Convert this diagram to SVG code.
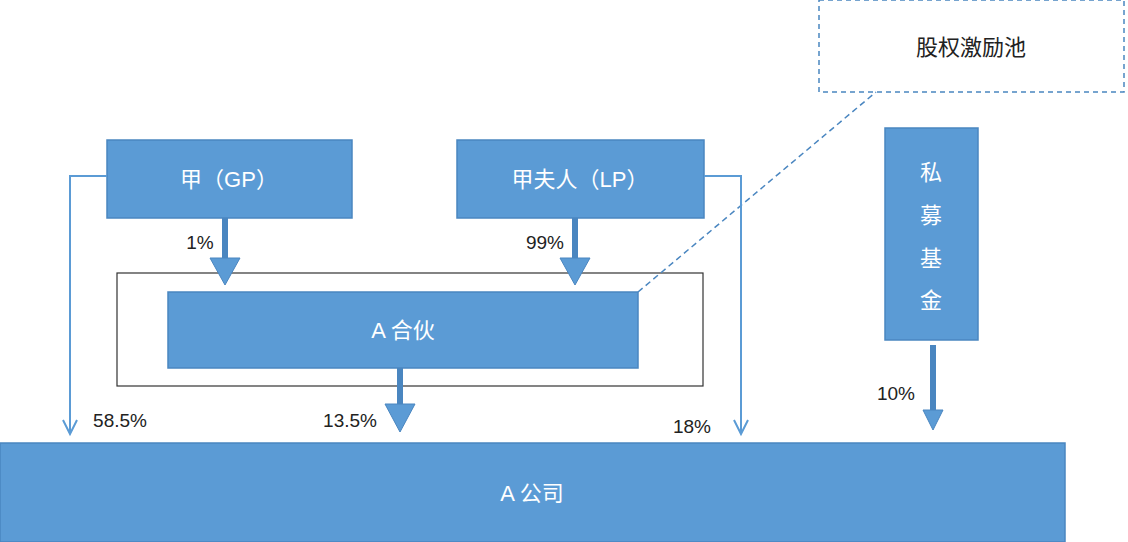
<svg xmlns="http://www.w3.org/2000/svg" width="1128" height="542" viewBox="0 0 1128 542">
<style>
.b{fill:#5b9bd5;stroke:#4a86c0;stroke-width:1.5}
.t{fill:#fff;font-family:"Liberation Sans","Noto Sans CJK SC",sans-serif;font-size:22px;text-anchor:middle;dominant-baseline:central}
.l{fill:#222;font-family:"Liberation Sans","Noto Sans CJK SC",sans-serif;font-size:19px;text-anchor:middle;dominant-baseline:central}
.thin{fill:none;stroke:#5b9bd5;stroke-width:2}
.thick{fill:none;stroke:#4a86c0;stroke-width:6}
.head{fill:#5b9bd5;stroke:#4a86c0;stroke-width:1}
</style>
<rect width="1128" height="542" fill="#fff"/>
<g id="pool"><rect x="819" y="0" width="305" height="92" fill="#fff" stroke="#4a86c0" stroke-width="1.5" stroke-dasharray="5,4"/><text class="t" x="971" y="47" fill="#222" style="fill:#222">股权激励池</text></g>
<g id="outer"><rect x="117" y="273" width="586" height="113" fill="#fff" stroke="#333" stroke-width="1.2"/></g>
<g id="gp"><rect class="b" x="107" y="140" width="245" height="78"/><text class="t" x="229" y="179">甲（GP）</text></g>
<g id="lp"><rect class="b" x="457" y="140" width="247" height="78"/><text class="t" x="580" y="179">甲夫人（LP）</text></g>
<g id="fund"><rect class="b" x="885" y="128" width="93" height="212"/>
<text class="t" x="931" y="172">私</text><text class="t" x="931" y="215">募</text><text class="t" x="931" y="258">基</text><text class="t" x="931" y="300">金</text></g>
<g id="ah"><rect class="b" x="168" y="292" width="470" height="76"/><text class="t" x="403" y="330">A 合伙</text></g>
<g id="ac"><rect class="b" x="0" y="443" width="1065" height="99"/><text class="t" x="532" y="493">A 公司</text></g>
<g id="connectors">
<line x1="638" y1="292" x2="876" y2="92" stroke="#4a86c0" stroke-width="1.5" stroke-dasharray="6,4"/>
<line class="thick" x1="225" y1="218" x2="225" y2="258"/><polygon class="head" points="210,258 240,258 225,285"/>
<line class="thick" x1="575" y1="218" x2="575" y2="258"/><polygon class="head" points="560,258 590,258 575,285"/>
<line class="thick" x1="400" y1="368" x2="400" y2="404"/><polygon class="head" points="385,404 415,404 400,432"/>
<line class="thick" x1="933" y1="345" x2="933" y2="410"/><polygon class="head" points="923,410 943,410 933,430"/>
<polyline class="thin" points="107,176 70,176 70,434"/><polyline class="thin" points="63,420 70,434 77,420"/>
<polyline class="thin" points="704,176 741,176 741,434"/><polyline class="thin" points="734,420 741,434 748,420"/>
</g>
<g id="labels">
<text class="l" x="200" y="242">1%</text>
<text class="l" x="545" y="242">99%</text>
<text class="l" x="350" y="420">13.5%</text>
<text class="l" x="120" y="420">58.5%</text>
<text class="l" x="692" y="426">18%</text>
<text class="l" x="896" y="393">10%</text>
</g>
</svg>
